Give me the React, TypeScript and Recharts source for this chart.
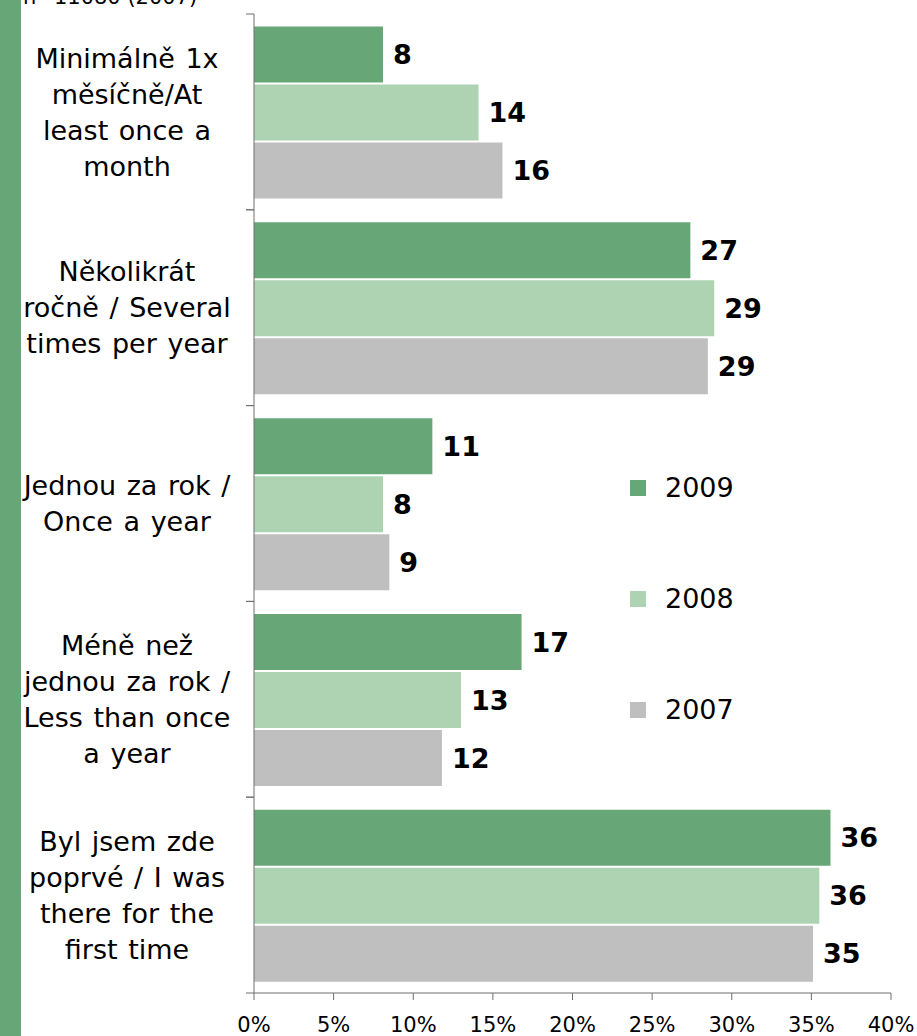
import React from 'react';
import { BarChart, Bar, XAxis, YAxis, LabelList, Legend } from 'recharts';

// frequency of visits, percent of respondents
const categories = [
  'Minimálně 1x\nměsíčně/At\nleast once a\nmonth',
  'Několikrát\nročně / Several\ntimes per year',
  'Jednou za rok /\nOnce a year',
  'Méně než\njednou za rok /\nLess than once\na year',
  'Byl jsem zde\npoprvé / I was\nthere for the\nfirst time',
];
const years = ['2009', '2008', '2007'];
const series2009 = [8.1, 27.4, 11.2, 16.8, 36.2];
const series2008 = [14.1, 28.9, 8.1, 13.0, 35.5];
const series2007 = [15.6, 28.5, 8.5, 11.8, 35.1];
const xTicks = [0, 5, 10, 15, 20, 25, 30, 35, 40];
const sampleNote = 'n=11080 (2007)';

const colors: Record<string, string> = { '2009': '#67a676', '2008': '#aed3b3', '2007': '#bfbfbf' };
const axisColor = '#6e6e6e';
const font = 'Verdana, "DejaVu Sans", sans-serif';

const data = categories.map((cat, i) => ({
  cat,
  '2009': series2009[i],
  '2008': series2008[i],
  '2007': series2007[i],
}));

const CategoryTick = (props: any) => {
  const { x, y, payload } = props;
  const lines = String(payload.value).split('\n');
  const half = payload.offset ?? 0;
  const axisX = x + 8;
  const lh = 36;
  const top = y - ((lines.length - 1) * lh) / 2;
  const cx = x - 119;
  return (
    <g>
      <line x1={axisX - 8} x2={axisX} y1={y - half} y2={y - half} stroke={axisColor} />
      <line x1={axisX - 8} x2={axisX} y1={y + half} y2={y + half} stroke={axisColor} />
      <text textAnchor="middle" fontSize={27} fontFamily={font} fill="#000" wordSpacing={2}>
        {lines.map((l, i) => (
          <tspan key={i} x={cx} y={top + i * lh} dy="0.36em">{l}</tspan>
        ))}
      </text>
    </g>
  );
};

const LegendBox = () => (
  <div style={{ fontFamily: font, fontSize: 27, color: '#000' }}>
    {years.map((yr) => (
      <div key={yr} style={{ display: 'flex', alignItems: 'center', height: 111 }}>
        <span style={{ width: 16, height: 16, background: colors[yr], marginRight: 19 }} />
        <span>{yr}</span>
      </div>
    ))}
  </div>
);

export default function App() {
  return (
    <div style={{ position: 'absolute', left: 0, top: 0, width: 917, height: 1036, background: '#fff', overflow: 'hidden' }}>
      <div style={{ position: 'absolute', left: 0, top: 0, width: 21, height: 1036, background: '#67a676' }} />
      <div style={{ position: 'absolute', left: 23, top: -13, fontFamily: font, fontSize: 21, lineHeight: '21px', whiteSpace: 'nowrap' }}>
        {sampleNote}
      </div>
      <BarChart
        width={917}
        height={1036}
        data={data}
        layout="vertical"
        margin={{ top: 14, right: 26, bottom: 0, left: 0 }}
        barCategoryGap="6.4%"
        barGap={2}
      >
        <XAxis
          type="number"
          domain={[0, 40]}
          ticks={xTicks}
          tickFormatter={(v) => `${v}%`}
          height={43}
          tickSize={7}
          tickMargin={17}
          stroke={axisColor}
          tick={{ fill: '#000', fontSize: 21, fontFamily: font }}
          interval={0}
        />
        <YAxis
          type="category"
          dataKey="cat"
          width={254}
          tickSize={8}
          tickMargin={0}
          tickLine={false}
          stroke={axisColor}
          tick={<CategoryTick />}
          interval={0}
        />
        <Legend
          layout="vertical"
          align="center"
          verticalAlign="middle"
          content={<LegendBox />}
          wrapperStyle={{ left: 630, top: 432, width: 160 }}
        />
        {years.map((yr) => (
          <Bar key={yr} dataKey={yr} fill={colors[yr]} isAnimationActive={false}>
            <LabelList
              dataKey={yr}
              position="right"
              offset={10}
              formatter={(v: any) => Math.round(Number(v))}
              style={{ fontSize: 27, fontWeight: 'bold', fontFamily: font, fill: '#000' }}
            />
          </Bar>
        ))}
      </BarChart>
    </div>
  );
}
